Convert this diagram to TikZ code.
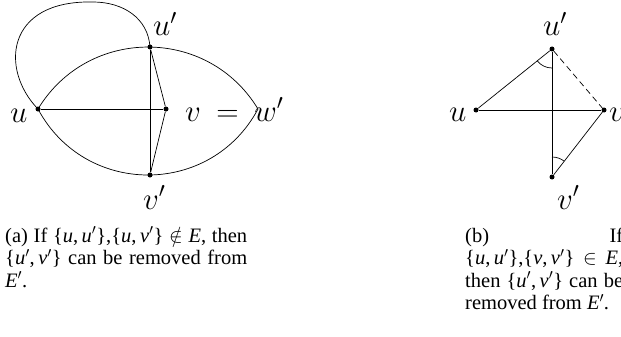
\RequirePackage{fix-cm}
\documentclass[tikz,border=0pt]{standalone}
\usepackage{fontspec}
\setmainfont{Liberation Serif}
\newcommand\mI[1]{\textit{#1}}
\tikzset{
  vdot/.style={circle,fill=black,inner sep=0pt,minimum size=5pt},
  lbl/.style={inner sep=0pt,anchor=base west,font=\fontsize{31}{36}\selectfont},
  captext/.style={inner sep=0pt,anchor=base west,font=\fontsize{20.5}{24}\selectfont},
  gline/.style={line width=0.7pt},
}
\begin{document}
\begin{tikzpicture}[x=1pt,y=-1pt]
\useasboundingbox (0,0) rectangle (621,337);
\clip (0,0) rectangle (621,337);
% ---------- left figure ----------
\node[vdot] (u) at (38,109) {};
\node[vdot] (up) at (150,47) {};
\node[vdot] (v) at (166,109) {};
\node[vdot] (vp) at (150,175) {};
\coordinate (R) at (258,109);
\coordinate (T) at (93,2);
\draw[gline] (u.center) .. controls (88,26.4) and (208,26.4) .. (R)
            .. controls (211,197) and (85,197) .. (u.center);
\draw[gline] (u.center) .. controls (0,70) and (5,0) .. (T)
            .. controls (123,2) and (148,18) .. (up.center);
\draw[gline] (u) -- (v);
\draw[gline] (up) -- (vp);
\draw[gline] (up) -- (v);
\draw[gline] (v) -- (vp);
\node[lbl] (lu) at (10,122) {$u$};
\node[lbl] (lup) at (153,36) {$u'$};
\node[lbl] (lv) at (185,121) {$v\:=\:w'$};
\node[lbl] (lvp) at (143,209) {$v'$};
% ---------- right figure ----------
\node[vdot] (bu) at (476,110) {};
\node[vdot] (bup) at (552,49) {};
\node[vdot] (bv) at (604,110) {};
\node[vdot] (bvp) at (552,177) {};
\draw[gline] (bu) -- (bup);
\draw[gline] (bu) -- (bv);
\draw[gline] (bup) -- (bvp);
\draw[gline] (bvp) -- (bv);
\draw[gline,dash pattern=on 6pt off 4pt] (bup) -- (bv);
\draw[gline] ([shift={(90:19)}]bup.center) arc[start angle=90,end angle=141.3,radius=19];
\draw[gline] ([shift={(270:20)}]bvp.center) arc[start angle=270,end angle=307.8,radius=20];
\node[lbl] (blu) at (449,121) {$u$};
\node[lbl] (blup) at (543,36) {$u'$};
\node[lbl] (blvp) at (557,209) {$v'$};
\node[lbl] (blv) at (609,121) {$v$};
% ---------- captions ----------
\node[captext] (ca1) at (5,242) {\hbox to 242pt{(a) If \{\mI{u},\,\mI{u}$'$\},\{\mI{u},\,\mI{v}$'$\} $\notin$ \mI{E}, then}};
\node[captext] (ca2) at (5,264.5) {\hbox to 242pt{\{\mI{u}$'$,\,\mI{v}$'$\} can be removed from}};
\node[captext] (ca3) at (5,287) {\mI{E}$'$.};
\node[captext] (cb1) at (465,242) {\hbox to 158pt{(b) If}};
\node[captext] (cb2) at (465,264.5) {\hbox to 158pt{\{\mI{u},\,\mI{u}$'$\},\{\mI{v},\,\mI{v}$'$\} $\in$ \mI{E},}};
\node[captext] (cb3) at (465,287) {\hbox to 158pt{then \{\mI{u}$'$,\,\mI{v}$'$\} can be}};
\node[captext] (cb4) at (465,309.5) {removed from \mI{E}$'$.};
\end{tikzpicture}
\end{document}
